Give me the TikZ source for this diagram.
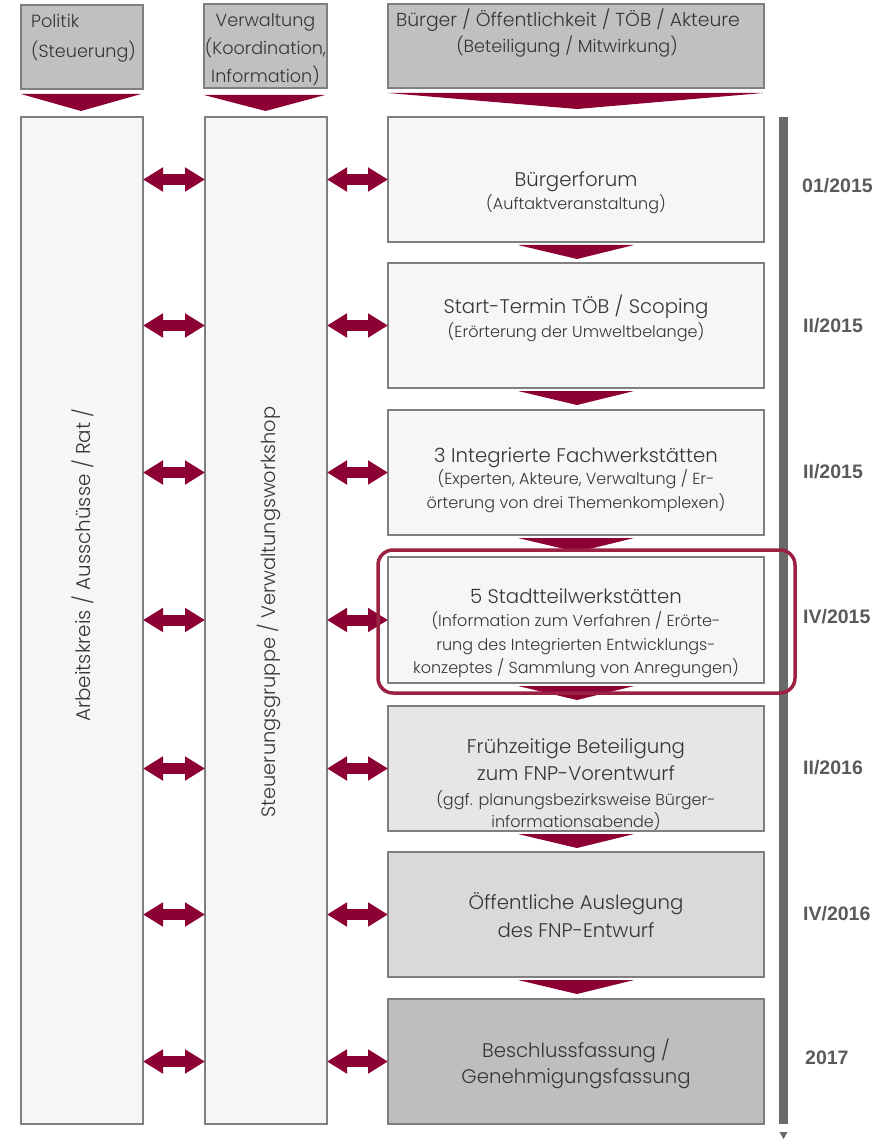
\documentclass[tikz,border=0pt]{standalone}
\usepackage{fontspec}
\usetikzlibrary{arrows.meta,calc}
\IfFontExistsTF{Poppins Light}{\newfontfamily\fut{Poppins Light}}{\IfFontExistsTF{Lato Light}{\newfontfamily\fut{Lato Light}}{\newfontfamily\fut{Liberation Sans}}}
\newfontfamily\arl{Liberation Sans}
\definecolor{cArrow}{HTML}{8C0034}
\definecolor{cHi}{HTML}{9B2242}
\definecolor{cHead}{HTML}{C0C0C0}
\definecolor{cBorder}{HTML}{7F7F7F}
\definecolor{cLight}{HTML}{F6F6F6}
\definecolor{cB5}{HTML}{E6E6E6}
\definecolor{cB6}{HTML}{D8D9D9}
\definecolor{cB7}{HTML}{BEBEBE}
\definecolor{cText}{HTML}{363636}
\definecolor{cDate}{HTML}{5A5A5A}
\definecolor{cBar}{HTML}{6A6A6A}
\begin{document}
\begin{tikzpicture}[x=1pt,y=-1pt,
  panel/.style={draw=cBorder, line width=1.3pt, inner sep=0pt, outer sep=0pt, anchor=north west},
  head/.style={panel, fill=cHead},
  col/.style={panel, fill=cLight, minimum width=122pt, minimum height=1007pt},
  stepbox/.style={panel, minimum width=376pt, minimum height=125pt},
  ttl/.style={font=\fut\fontsize{19.7}{23}\selectfont, text=cText, anchor=base, inner sep=0pt},
  sub/.style={font=\fut\fontsize{16}{23}\selectfont, text=cText, anchor=base, inner sep=0pt},
  htxt/.style={font=\fut\fontsize{17.6}{20}\selectfont, text=cText, inner sep=0pt},
  date/.style={font=\arl\bfseries\fontsize{19.5}{22}\selectfont, text=cDate, anchor=west, inner sep=0pt},
  dbl/.style={draw=cArrow, line width=11pt, {Triangle[length=20pt,width=23pt]}-{Triangle[length=20pt,width=23pt]}},
  chev/.style={fill=cArrow}
]
\useasboundingbox (0,0) rectangle (879,1139);
% headers
\node[head, minimum width=122pt, minimum height=84pt] (h1) at (21,5) {};
\node[head, minimum width=123pt, minimum height=84pt] (h2) at (204,4) {};
\node[head, minimum width=376pt, minimum height=84pt] (h3) at (388,4) {};
\node[htxt, anchor=base west] (h1a) at (31,28) {Politik};
\node[htxt, anchor=base west] (h1b) at (31,58) {(Steuerung)};
\node[htxt, anchor=base] (h2a) at (265.5,27) {Verwaltung};
\node[htxt, anchor=base] (h2b) at (265.5,55) {(Koordination,};
\node[htxt, anchor=base] (h2c) at (265.5,83) {Information)};
\node[htxt, anchor=base, font=\fut\fontsize{18.8}{20}\selectfont] (h3a) at (568,27) {Bürger / Öffentlichkeit / TÖB / Akteure};
\node[htxt, anchor=base] (h3b) at (567,53) {(Beteiligung / Mitwirkung)};
% header chevrons
\fill[chev] ($(h1.south west)+(0,5)$) -- ($(h1.south east)+(-2,5)$) -- ($(h1.south)+(-1,22)$) -- cycle;
\fill[chev] ($(h2.south west)+(0,7)$) -- ($(h2.south east)+(-2,7)$) -- ($(h2.south)+(0,23)$) -- cycle;
\fill[chev] ($(h3.south west)+(0,5)$) -- ($(h3.south east)+(-1,5)$) -- ($(h3.south)+(1,21)$) -- cycle;
% columns
\node[col] (c1) at (21,117) {};
\node[col] (c2) at (205,117) {};
\node[rotate=90, font=\fut\fontsize{19.9}{22}\selectfont, text=cText, inner sep=0pt] (c1t) at (83,565) {Arbeitskreis / Ausschüsse / Rat /};
\node[rotate=90, font=\fut\fontsize{19.4}{22}\selectfont, text=cText, inner sep=0pt] (c2t) at (269,612) {Steuerungsgruppe / Verwaltungsworkshop};
% step boxes
\node[stepbox, fill=cLight] (b1) at (388,117) {};
\node[stepbox, fill=cLight] (b2) at (388,263) {};
\node[stepbox, fill=cLight] (b3) at (388,410) {};
\node[stepbox, fill=cLight, minimum height=126pt] (b4) at (388,557) {};
\node[stepbox, fill=cB5] (b5) at (388,706) {};
\node[stepbox, fill=cB6] (b6) at (388,852) {};
\node[stepbox, fill=cB7] (b7) at (388,999) {};
% texts
\node[ttl] (t1a) at (576,187) {Bürgerforum};
\node[sub] (t1b) at (576,210) {(Auftaktveranstaltung)};
\node[ttl] (t2a) at (576,313) {Start-Termin TÖB / Scoping};
\node[sub] (t2b) at (576,337) {(Erörterung der Umweltbelange)};
\node[ttl] (t3a) at (576,462) {3 Integrierte Fachwerkstätten};
\node[sub] (t3b) at (576,484) {(Experten, Akteure, Verwaltung / Er-};
\node[sub] (t3c) at (576,508) {örterung von drei Themenkomplexen)};
\node[ttl] (t4a) at (576,603) {5 Stadtteilwerkstätten};
\node[sub] (t4b) at (576,626) {(Information zum Verfahren / Erörte-};
\node[sub] (t4c) at (576,650) {rung des Integrierten Entwicklungs-};
\node[sub] (t4d) at (576,673) {konzeptes / Sammlung von Anregungen)};
\node[ttl] (t5a) at (576,753) {Frühzeitige Beteiligung};
\node[ttl] (t5b) at (576,780) {zum FNP-Vorentwurf};
\node[sub] (t5c) at (576,805) {(ggf. planungsbezirksweise Bürger-};
\node[sub] (t5d) at (576,827) {informationsabende)};
\node[ttl] (t6a) at (576,909) {Öffentliche Auslegung};
\node[ttl] (t6b) at (576,937) {des FNP-Entwurf};
\node[ttl] (t7a) at (576,1057) {Beschlussfassung /};
\node[ttl] (t7b) at (576,1083) {Genehmigungsfassung};
% chevrons between boxes
\foreach \a/\b in {b1/b2,b2/b3,b3/b4,b4/b5,b5/b6,b6/b7}{
  \fill[chev] ($(\a.south)+(-58,3)$) -- ($(\a.south)+(58,3)$) -- ($(\a.south)+(1,17)$) -- cycle;
}
% double arrows
\foreach \b in {b1,b2,b3,b4,b5,b6,b7}{
  \draw[dbl] (c1.east |- \b.center) -- (c2.west |- \b.center);
  \draw[dbl] (c2.east |- \b.center) -- (\b.west);
}
% timeline
\node[fill=cBar, inner sep=0pt, outer sep=0pt, minimum width=9pt, minimum height=1007pt, anchor=north west] (bar) at (779,117) {};
\fill[cBar] ($(bar.south)+(-4,8)$) -- ($(bar.south)+(4,8)$) -- ($(bar.south)+(0,15)$) -- cycle;
% dates
\node[date] (d1) at (802,186) {01/2015};
\node[date] (d2) at (803,326) {II/2015};
\node[date] (d3) at (803,472) {II/2015};
\node[date] (d4) at (803,617) {IV/2015};
\node[date] (d5) at (803,768) {II/2016};
\node[date] (d6) at (803,914) {IV/2016};
\node[date] (d7) at (805,1058) {2017};
% highlight
\draw[cHi, line width=3.5pt, rounded corners=15pt] (378,550) rectangle (795,693);
\end{tikzpicture}
\end{document}
